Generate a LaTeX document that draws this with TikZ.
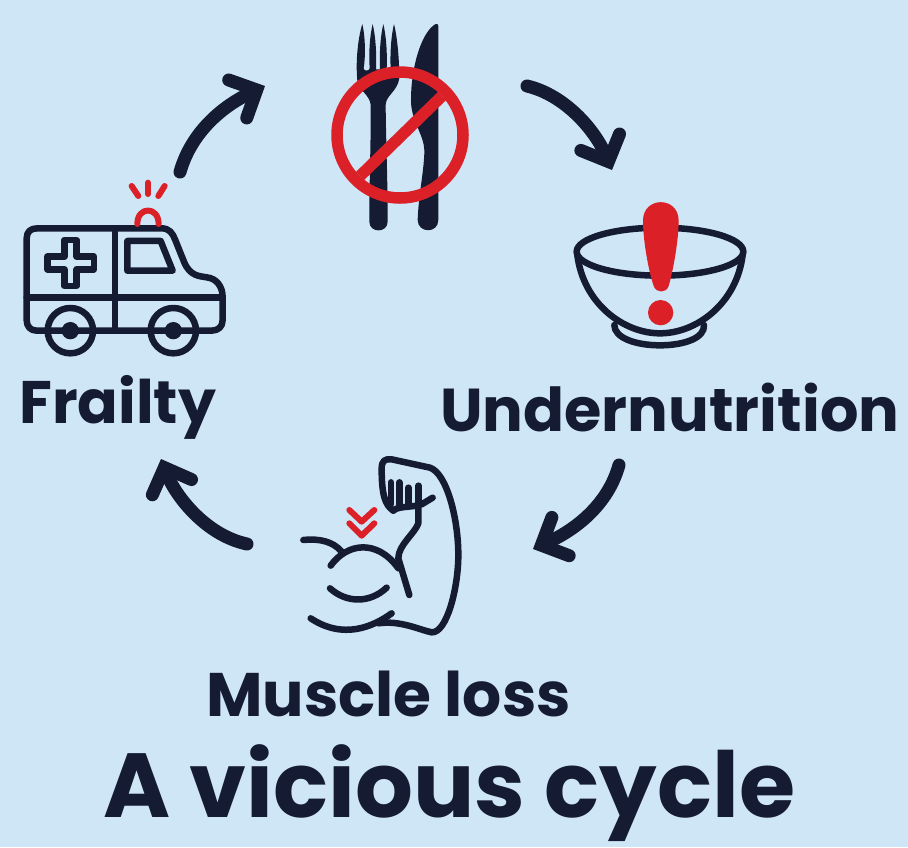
\documentclass[tikz,border=0pt]{standalone}
\usepackage{fontspec}
\setmainfont{Poppins}
\usepackage{xcolor}
\usetikzlibrary{arrows.meta}
\definecolor{ink}{HTML}{141B33}
\definecolor{alert}{HTML}{DC2027}
\definecolor{sky}{HTML}{CFE6F7}

\begin{document}
\begin{tikzpicture}[x=1pt, y=-1pt,
  >={Straight Barb[length=21pt,width=42pt,line cap=round,line join=miter]},
  cyclearrow/.style={->, ink, line width=13pt, line cap=round},
  outline/.style={ink, line width=6.5pt, line cap=round, line join=round},
  marker/.style={alert, line width=6pt, line cap=round, line join=round},
  icon/.style={x=0.3333pt, y=-0.3333pt},
  label/.style={ink, inner sep=0pt, anchor=base west, font=\bfseries\fontsize{60.5}{60.5}\selectfont},
  heading/.style={label, font=\bfseries\fontsize{91}{91}\selectfont}]

\fill[sky] (0,0) rectangle (908,847);
\useasboundingbox (0,0) rectangle (908,847);

% Besteck
\begin{scope}[shift={(320,10)}, icon]
\fill[ink] (112,212) .. controls (106,150) and (115,80) .. (127,42)
  .. controls (136,80) and (137,140) .. (131,175) .. controls (132,184) and (147,184) .. (149,175)
  .. controls (146,130) and (149,80) .. (158,42) .. controls (167,80) and (170,130) .. (168,178)
  -- (180,178) .. controls (178,130) and (181,80) .. (190,42) .. controls (199,80) and (202,130) .. (200,178)
  -- (212,178) .. controls (210,130) and (213,80) .. (222,42) .. controls (232,80) and (238,150) .. (238,205)
  .. controls (232,245) and (198,255) .. (197,285) .. controls (198,400) and (203,500) .. (203,635)
  .. controls (203,670) and (148,670) .. (148,635) .. controls (148,500) and (153,400) .. (152,285)
  .. controls (150,255) and (115,240) .. (112,212) -- cycle;
\fill[ink] (355,48) -- (355,630) .. controls (355,672) and (293,670) .. (293,630)
  .. controls (295,560) and (314,470) .. (313,420) .. controls (312,375) and (272,330) .. (273,270)
  .. controls (273,170) and (305,65) .. (347,42) .. controls (352,41) and (355,43) .. (355,48) -- cycle;
\end{scope}
\draw[alert, line width=11.5pt] (400,135) circle[radius=63];
\draw[alert, line width=11.5pt] (360,176) -- (442,96);

% Schale
\begin{scope}[shift={(560,190)}, icon]
\draw[outline] (300,185) ellipse[x radius=250, y radius=72];
\draw[outline] (52,195) .. controls (70,340) and (190,430) .. (300,430) .. controls (410,430) and (530,340) .. (548,195);
\draw[outline] (163,405) .. controls (163,445) and (230,466) .. (300,466) .. controls (370,466) and (435,445) .. (432,405);
\fill[alert] (249,92) .. controls (249,18) and (356,18) .. (356,92)
  .. controls (356,150) and (340,240) .. (326,288) .. controls (320,310) and (288,310) .. (281,288)
  .. controls (265,240) and (249,150) .. (249,92) -- cycle;
\fill[alert] (302,368) circle[radius=38];
\end{scope}

% Krankenwagen
\begin{scope}[shift={(10,170)}, icon]
\draw[outline] (50,382) -- (50,205) .. controls (50,185) and (62,175) .. (82,175) -- (455,175)
  .. controls (478,175) and (488,190) .. (495,208) -- (522,275) .. controls (540,320) and (570,318) .. (590,322)
  .. controls (620,325) and (638,350) .. (638,382) -- (638,450) .. controls (638,470) and (625,482) .. (605,482)
  -- (80,482) .. controls (62,482) and (50,470) .. (50,450) -- cycle;
\draw[outline] (50,382) -- (638,382);
\draw[outline] (315,175) -- (315,482);
\draw[outline] (352,213) -- (452,213) -- (488,302) -- (352,302) -- cycle;
\draw[outline] (163,210) -- (200,210) -- (200,260) -- (252,260) -- (252,298) -- (200,298) -- (200,348)
  -- (163,348) -- (163,298) -- (112,298) -- (112,260) -- (163,260) -- cycle;
\foreach \wheelx in {181,490} {
  \draw[outline] (\wheelx,482) circle[radius=68];
  \fill[ink] (\wheelx,482) circle[radius=26];
}
\draw[marker] (382,162) .. controls (382,108) and (446,108) .. (446,162);
\draw[marker] (365,48) -- (385,78);
\draw[marker] (414,38) -- (414,72);
\draw[marker] (464,48) -- (445,78);
\end{scope}

% Arm
\begin{scope}[shift={(290,445)}, icon]
\draw[outline] (310,197) .. controls (285,180) and (275,150) .. (275,70) .. controls (275,48) and (285,40) .. (305,43)
  -- (420,68) .. controls (470,85) and (505,220) .. (505,330) .. controls (505,430) and (470,565) .. (425,562)
  .. controls (390,555) and (330,525) .. (265,535);
\draw[outline] (305,505) .. controls (250,545) and (160,585) .. (62,520);
\draw[outline] (303,112) -- (303,178);
\draw[outline] (328,112) -- (328,180);
\draw[outline] (355,128) -- (355,180);
\draw[outline] (385,122) -- (385,180);
\draw[outline] (310,197) .. controls (325,180) and (385,190) .. (405,172) -- (428,158);
\draw[outline] (385,190) -- (385,235) .. controls (375,265) and (325,300) .. (325,340) -- (358,450);
\draw[outline] (122,362) .. controls (170,295) and (260,280) .. (325,370);
\draw[outline] (40,285) .. controls (90,280) and (130,290) .. (155,320);
\draw[outline] (120,430) .. controls (170,475) and (240,475) .. (290,428);
\draw[marker] (178,195) -- (215,230) -- (253,195);
\draw[marker] (178,235) -- (215,272) -- (253,235);
\end{scope}

% Pfeile
\coordinate (frailtyOut) at (180,172);
\coordinate (forkIn) at (265,86);
\coordinate (forkOut) at (527,86);
\coordinate (bowlIn) at (612,170);
\coordinate (bowlOut) at (619,465);
\coordinate (armIn) at (533,549);
\coordinate (armOut) at (247,544);
\coordinate (frailtyIn) at (161,459);
\draw[cyclearrow] (frailtyOut) .. controls (192,130) and (225,105) .. (forkIn);
\draw[cyclearrow] (forkOut) .. controls (565,95) and (595,130) .. (bowlIn);
\draw[cyclearrow] (bowlOut) .. controls (608,505) and (575,530) .. (armIn);
\draw[cyclearrow] (armOut) .. controls (205,535) and (175,495) .. (frailtyIn);

% Texte
\node[label, font=\bfseries\fontsize{60}{60}\selectfont] (frailty) at (19,423) {Frailty};
\node[label] (undernutrition) at (440,431) {Undernutrition};
\node[label, font=\bfseries\fontsize{61.5}{61.5}\selectfont] (muscleloss) at (206,716) {Muscle loss};
\node[heading] (title) at (103,817) {A vicious cycle};
\end{tikzpicture}
\end{document}
